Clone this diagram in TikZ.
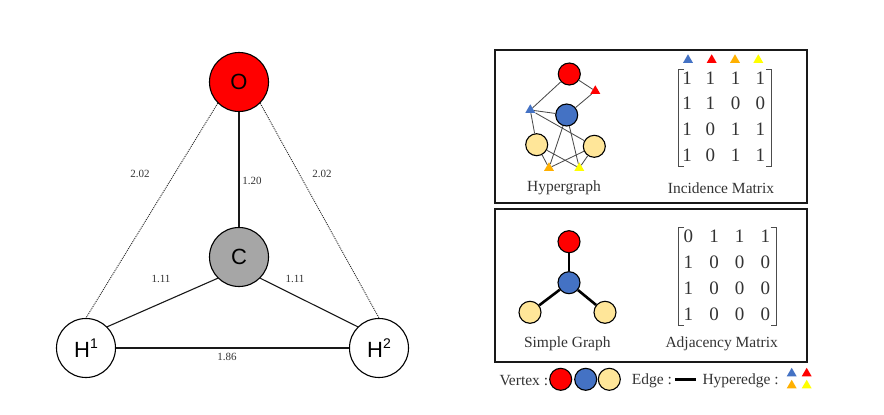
\documentclass[tikz,border=0pt]{standalone}
\usepackage{fontspec}
\setmainfont{Liberation Serif}
\newfontfamily\arialf{Liberation Sans}
\usetikzlibrary{shapes.geometric}
\definecolor{vred}{HTML}{FF0000}
\definecolor{vblue}{HTML}{4472C4}
\definecolor{vyel}{HTML}{FFE699}
\definecolor{tor}{HTML}{FFB000}
\definecolor{tye}{HTML}{FFFF00}
\definecolor{cgray}{HTML}{A6A6A6}
\definecolor{txt}{HTML}{333333}
\newcommand{\supnum}[1]{\raisebox{.42em}{\fontsize{14}{14}\selectfont #1}}
\tikzset{
  atom/.style={circle,draw=black,line width=1.1pt,minimum size=59pt,inner sep=0pt,font=\arialf\fontsize{22}{24}\selectfont},
  bond/.style={line width=1.1pt,black!90},
  hbond/.style={line width=.9pt,dash pattern=on 1pt off 1pt,black!85},
  dist/.style={font=\fontsize{11}{13}\selectfont,text=txt,inner sep=0pt},
  vtx/.style={circle,draw=black,line width=1.1pt,minimum size=22pt,inner sep=0pt},
  tri/.style={regular polygon,regular polygon sides=3,minimum size=11.5pt,inner sep=0pt},
  hedge/.style={line width=.85pt,black!70},
  sedge/.style={line width=2.6pt,black},
  panel/.style={draw=black!90,line width=1.3pt},
  captxt/.style={font=\fontsize{15.5}{17}\selectfont,text=txt,inner sep=0pt},
  ent/.style={font=\fontsize{19}{21}\selectfont,text=txt,inner sep=0pt},
  brk/.style={line width=.8pt,black!70}
}
\begin{document}
\begin{tikzpicture}[x=1pt,y=-1pt]
\useasboundingbox (0,0) rectangle (884,415);
% molecule
\node[atom,fill=vred] (O) at (239,82) {O};
\node[atom,fill=cgray] (C) at (239,257) {C};
\node[atom,fill=white] (H1) at (86,348) {H\supnum{1}};
\node[atom,fill=white] (H2) at (379,348) {H\supnum{2}};
\draw[bond] (O) -- (C);
\draw[bond] (C.225) -- (H1.45);
\draw[bond] (C.-45) -- (H2.135);
\draw[bond] (H1) -- (H2);
\draw[hbond] (O.225) -- (H1.north);
\draw[hbond] (O.-45) -- (H2.north);
\node[dist] (d1) at (140,174) {2.02};
\node[dist] (d2) at (322,174) {2.02};
\node[dist] (d3) at (252,181) {1.20};
\node[dist] (d4) at (161,279) {1.11};
\node[dist] (d5) at (295,279) {1.11};
\node[dist] (d6) at (227,357) {1.86};
% panels
\node[panel,minimum width=312pt,minimum height=153pt,inner sep=0pt] (p1) at (651,126.5) {};
\node[panel,minimum width=312pt,minimum height=153pt,inner sep=0pt] (p2) at (651,285.5) {};
% hypergraph
\node[vtx,fill=vred] (hr) at (569.3,74) {};
\node[vtx,fill=vblue] (hb) at (566.7,115) {};
\node[vtx,fill=vyel] (hl) at (536.7,144.7) {};
\node[vtx,fill=vyel] (hrr) at (594.3,146.3) {};
\node[tri,fill=vblue] (tb) at (530.3,110) {};
\node[tri,fill=red] (tr) at (595.3,91) {};
\node[tri,fill=tor] (to) at (549,168) {};
\node[tri,fill=tye] (ty) at (579.3,168) {};
\foreach \a/\b in {hr/tb,hr/tr,hb/tr,hb/tb,tb/hl,tb/hrr,hb/to,hb/ty,hl/to,hl/ty,hrr/to,hrr/ty}
  \draw[hedge] (\a) -- (\b);
\node[captxt] (c1) at (564,188) {Hypergraph};
\node[captxt] (c2) at (721,188) {Incidence Matrix};
% incidence matrix
\foreach \x/\c/\n in {688/vblue/a,711.7/red/b,735/tor/c,758.3/tye/d}
  \node[tri,fill=\c] (m\n) at (\x,60) {};
\foreach \y/\r/\vals in {78.3/1/{1,1,1,1},103.3/2/{1,1,0,0},129.3/3/{1,0,1,1},155/4/{1,0,1,1}}{
  \foreach \v [count=\i] in \vals {
    \ifcase\i\or\def\xx{687}\or\def\xx{710.3}\or\def\xx{735.7}\or\def\xx{760.3}\fi
    \node[ent] (i\r\i) at (\xx,\y) {\v};
  }
}
\coordinate (il1) at (684,69.5); \coordinate (il2) at (678.5,69.5); \coordinate (il3) at (678.5,166.5); \coordinate (il4) at (684,166.5);
\coordinate (ir1) at (766,69.5); \coordinate (ir2) at (771.5,69.5); \coordinate (ir3) at (771.5,166.5); \coordinate (ir4) at (766,166.5);
\draw[brk] (il1) -- (il2) -- (il3) -- (il4);
\draw[brk] (ir1) -- (ir2) -- (ir3) -- (ir4);
% simple graph
\node[vtx,fill=vred] (sr) at (569,241.7) {};
\node[vtx,fill=vblue] (sb) at (569,282.7) {};
\node[vtx,fill=vyel] (sl) at (530,312.3) {};
\node[vtx,fill=vyel] (srr) at (605,312.3) {};
\draw[sedge] (sr) -- (sb);
\draw[sedge] (sb) -- (sl);
\draw[sedge] (sb) -- (srr);
\node[captxt] (c3) at (567.3,344) {Simple Graph};
\node[captxt] (c4) at (721.7,344) {Adjacency Matrix};
% adjacency matrix
\foreach \y/\r/\vals in {236/1/{0,1,1,1},262.3/2/{1,0,0,0},288.3/3/{1,0,0,0},314/4/{1,0,0,0}}{
  \foreach \v [count=\i] in \vals {
    \ifcase\i\or\def\xx{688.3}\or\def\xx{714}\or\def\xx{739.7}\or\def\xx{765.3}\fi
    \node[ent] (a\r\i) at (\xx,\y) {\v};
  }
}
\coordinate (al1) at (684,227.5); \coordinate (al2) at (678.5,227.5); \coordinate (al3) at (678.5,325.5); \coordinate (al4) at (684,325.5);
\coordinate (ar1) at (770.5,227.5); \coordinate (ar2) at (776,227.5); \coordinate (ar3) at (776,325.5); \coordinate (ar4) at (770.5,325.5);
\draw[brk] (al1) -- (al2) -- (al3) -- (al4);
\draw[brk] (ar1) -- (ar2) -- (ar3) -- (ar4);
% legend
\node[captxt,anchor=west] (lv) at (499.3,381) {Vertex :};
\node[vtx,fill=vred] (l1) at (560.7,379.3) {};
\node[vtx,fill=vblue] (l2) at (585.7,379.3) {};
\node[vtx,fill=vyel] (l3) at (609.3,379.3) {};
\node[captxt,anchor=west] (le) at (631.7,381) {Edge :};
\coordinate (ea) at (675,379.5); \coordinate (eb) at (695.7,379.5);
\draw[sedge] (ea) -- (eb);
\node[captxt,anchor=west] (lh) at (702.3,381) {Hyperedge :};
\node[tri,fill=vblue] (lt1) at (791.7,373.5) {};
\node[tri,fill=red] (lt2) at (806.7,373.5) {};
\node[tri,fill=tor] (lt3) at (791.7,385.5) {};
\node[tri,fill=tye] (lt4) at (806.7,385.5) {};
\end{tikzpicture}
\end{document}
